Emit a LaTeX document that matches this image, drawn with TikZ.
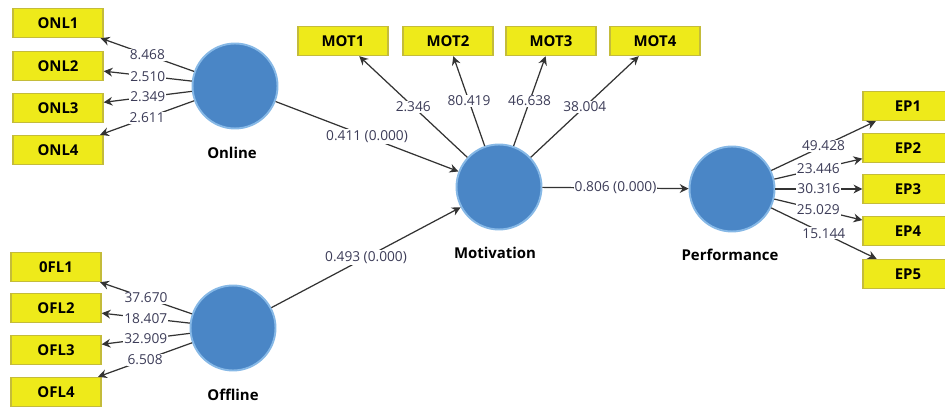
\documentclass[tikz,border=0pt]{standalone}
\usepackage{fontspec}
\setmainfont{Open Sans}
\usetikzlibrary{arrows.meta}
\definecolor{boxyellow}{HTML}{EEEA1A}
\definecolor{boxedge}{HTML}{C4BC3A}
\definecolor{latentblue}{HTML}{4A86C6}
\definecolor{latentedge}{HTML}{86B8E6}
\definecolor{numtext}{HTML}{3C3C58}

\begin{document}
\begin{tikzpicture}[x=0.02cm,y=-0.02cm,
    indicator/.style ={rectangle, draw=boxedge, fill=boxyellow, line width=0.8pt,
      minimum width=1.8cm, minimum height=0.58cm, inner sep=0pt,
      font=\fontsize{8.5}{10}\selectfont\bfseries},
    construct/.style ={circle, draw=latentedge, fill=latentblue, line width=1.1pt,
      minimum size=1.7cm, inner sep=0pt},
    caption/.style ={font=\fontsize{8.5}{10}\selectfont\bfseries},
    weight/.style ={fill=white, inner sep=0.6pt, text=numtext,
      font=\fontsize{7.8}{9}\selectfont},
    link/.style ={draw=black!80, line width=0.7pt, -{Stealth[length=5pt,width=5pt]}}]
   \useasboundingbox (0,0) rectangle (945,408);

   % constructs
   \node[construct] (online)  at (235,86)  {};
   \node[construct] (offline)  at (233,328)  {};
   \node[construct] (motivation)  at (499,187)  {};
   \node[construct] (performance)  at (732,189)  {};
   \node[caption] (onlinetext)  at (232,153)  {Online};
   \node[caption] (offlinetext)  at (233,395)  {Offline};
   \node[caption] (motivationtext)  at (495,253)  {Motivation};
   \node[caption] (performancetext)  at (730,255)  {Performance};

   % indicators
   \node[indicator] (onl1)  at (58,23)  {ONL1};
   \node[indicator] (onl2)  at (58,66)  {ONL2};
   \node[indicator] (onl3)  at (58,108)  {ONL3};
   \node[indicator] (onl4)  at (58,150)  {ONL4};
   \node[indicator] (ofl1)  at (56,267)  {0FL1};
   \node[indicator] (ofl2)  at (56,308)  {OFL2};
   \node[indicator] (ofl3)  at (56,350)  {OFL3};
   \node[indicator] (ofl4)  at (56,392)  {OFL4};
   \node[indicator] (mot1)  at (343,41)  {MOT1};
   \node[indicator] (mot2)  at (448,41)  {MOT2};
   \node[indicator] (mot3)  at (551,41)  {MOT3};
   \node[indicator] (mot4)  at (655,41)  {MOT4};
   \node[indicator] (ep1)  at (908,106)  {EP1};
   \node[indicator] (ep2)  at (908,148)  {EP2};
   \node[indicator] (ep3)  at (908,189)  {EP3};
   \node[indicator] (ep4)  at (908,231)  {EP4};
   \node[indicator] (ep5)  at (908,274)  {EP5};

   \draw[link] (online) to node[weight] {8.468} (onl1);
   \draw[link] (online) to node[weight] {2.510} (onl2);
   \draw[link] (online) to node[weight] {2.349} (onl3);
   \draw[link] (online) to node[weight] {2.611} (onl4);
   \draw[link] (offline) to node[weight] {37.670} (ofl1);
   \draw[link] (offline) to node[weight] {18.407} (ofl2);
   \draw[link] (offline) to node[weight] {32.909} (ofl3);
   \draw[link] (offline) to node[weight] {6.508} (ofl4);
   \draw[link] (motivation) to node[weight] {2.346} (mot1);
   \draw[link] (motivation) to node[weight] {80.419} (mot2);
   \draw[link] (motivation) to node[weight] {46.638} (mot3);
   \draw[link] (motivation) to node[weight] {38.004} (mot4);
   \draw[link] (performance) to node[weight] {49.428} (ep1);
   \draw[link] (performance) to node[weight] {23.446} (ep2);
   \draw[link] (performance) to node[weight] {30.316} (ep3);
   \draw[link] (performance) to node[weight] {25.029} (ep4);
   \draw[link] (performance) to node[weight] {15.144} (ep5);

   \draw[link] (online) to node[weight] {0.411 (0.000)} (motivation);
   \draw[link] (offline) to node[weight] {0.493 (0.000)} (motivation);
   \draw[link] (motivation) to node[weight] {0.806 (0.000)} (performance);
 \end{tikzpicture}
\end{document}
